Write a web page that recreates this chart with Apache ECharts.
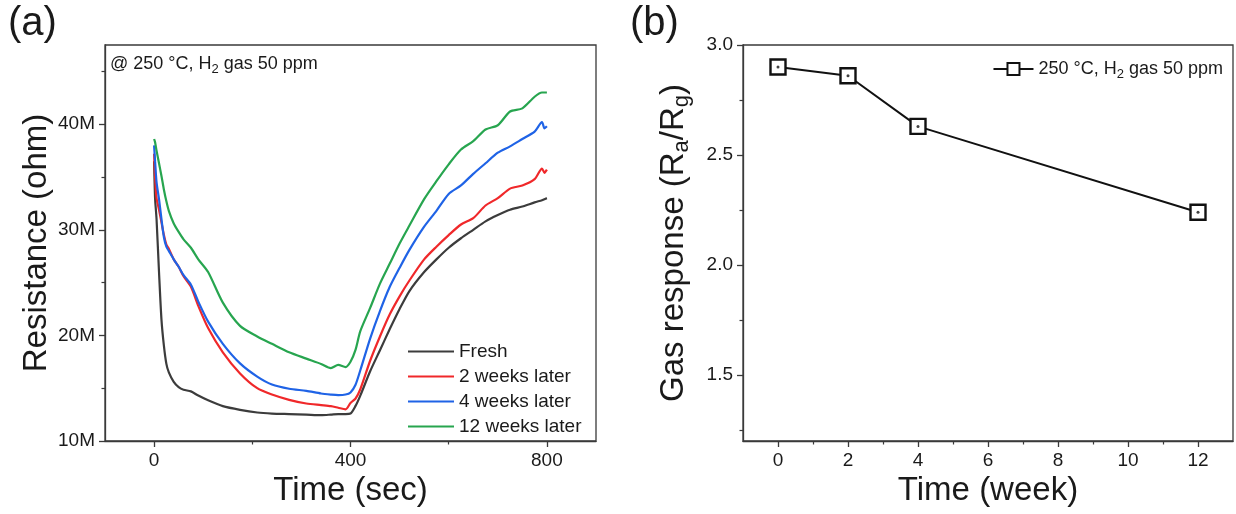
<!DOCTYPE html>
<html>
<head>
<meta charset="utf-8">
<script src="https://cdn.jsdelivr.net/npm/echarts@6/dist/echarts.min.js"></script>
<style>
  html, body { margin: 0; padding: 0; background: #fff; }
  #chart { width: 1236px; height: 514px; }
</style>
</head>
<body>
<div id="chart"></div>
<script>
// ---- Panel (a) data: time (sec) and resistance (M ohm) ----
const times = [0, 2, 5, 10, 15, 20, 25, 30, 40, 50, 60, 75, 90, 110, 140, 175, 210, 240, 275, 310, 340, 360, 375, 390, 400, 410, 420, 440, 460, 480, 500, 520, 550, 575, 600, 625, 650, 675, 700, 725, 750, 775, 790, 795, 800];
const fresh = [36.5, 33.0, 31.0, 26.0, 21.5, 19.0, 17.3, 16.5, 15.6, 15.1, 14.85, 14.7, 14.3, 13.85, 13.3, 12.95, 12.7, 12.6, 12.55, 12.5, 12.45, 12.5, 12.55, 12.55, 12.6, 13.3, 14.3, 16.6, 18.6, 20.6, 22.5, 24.2, 26.0, 27.2, 28.3, 29.2, 30.0, 30.8, 31.4, 31.9, 32.2, 32.6, 32.8, 32.9, 33.0];
const weeks2 = [37.2, 35.0, 33.0, 31.9, 30.7, 29.5, 28.6, 28.2, 27.2, 26.5, 25.6, 24.6, 22.8, 20.7, 18.4, 16.4, 15.0, 14.4, 13.9, 13.55, 13.4, 13.3, 13.15, 13.0, 13.6, 14.0, 14.9, 17.6, 19.9, 22.0, 23.7, 25.2, 27.2, 28.4, 29.5, 30.5, 31.1, 32.3, 33.0, 33.9, 34.2, 34.8, 35.8, 35.4, 35.7];
const weeks4 = [38.0, 36.5, 34.5, 32.9, 31.0, 29.3, 28.4, 28.0, 27.2, 26.5, 25.7, 24.8, 23.2, 21.3, 19.2, 17.35, 16.1, 15.35, 14.95, 14.75, 14.5, 14.4, 14.35, 14.4, 14.6, 15.3, 16.7, 19.7, 22.3, 24.6, 26.4, 28.1, 30.3, 31.8, 33.4, 34.2, 35.3, 36.3, 37.3, 37.9, 38.6, 39.3, 40.2, 39.6, 39.8];
const weeks12 = [38.6, 38.3, 37.5, 36.3, 35.1, 33.8, 32.7, 31.8, 30.6, 29.8, 29.1, 28.3, 27.2, 26.0, 23.1, 20.9, 19.9, 19.2, 18.4, 17.8, 17.3, 16.9, 17.2, 17.0, 17.5, 18.6, 20.4, 22.6, 24.9, 26.8, 28.7, 30.4, 32.9, 34.6, 36.2, 37.6, 38.4, 39.5, 39.9, 41.2, 41.5, 42.6, 43.0, 43.0, 43.0];
const seriesNames = ['Fresh', '2 weeks later', '4 weeks later', '12 weeks later'];

// ---- Panel (b) data ----
const weeks = [0, 2, 4, 12];
const response = [2.90, 2.86, 2.63, 2.24];
const responseName = '250 °C, H2 gas 50 ppm';

// ---- Tick labels ----
const timeTicks = [0, 400, 800];
const timeMinor = [200, 600];
const resTicks = [10, 20, 30, 40];
const resMinor = [15, 25, 35, 45];
const weekTicks = [0, 2, 4, 6, 8, 10, 12];
const weekMinor = [1, 3, 5, 7, 9, 11];
const respTicks = [1.5, 2.0, 2.5, 3.0];
const respMinor = [1.25, 1.75, 2.25, 2.75];

const FONT = 'Liberation Sans, Arial, sans-serif';
const AX = '#3a3a3a';
const TXT = '#1a1a1a';

function pairs(xs, ys) { return xs.map((x, i) => [x, ys[i]]); }

function majorAxis(dim, grid, min, max, ticks, fmt, extra) {
  return Object.assign({
    type: 'value', gridIndex: grid, min: min, max: max,
    position: dim === 'x' ? 'bottom' : 'left',
    axisLine: { show: true, onZero: false, lineStyle: { color: AX, width: 1.3 } },
    axisTick: { show: true, inside: false, length: 6, customValues: ticks, lineStyle: { color: AX, width: 1.3 } },
    axisLabel: { show: true, customValues: ticks, formatter: fmt, fontFamily: FONT, fontSize: 19, color: TXT, margin: 10 },
    splitLine: { show: false }
  }, extra || {});
}
function minorAxis(dim, grid, min, max, ticks) {
  return {
    type: 'value', gridIndex: grid, min: min, max: max,
    position: dim === 'x' ? 'bottom' : 'left',
    axisLine: { show: false, onZero: false },
    axisTick: { show: true, inside: false, length: 3.5, customValues: ticks, lineStyle: { color: AX, width: 1.2 } },
    axisLabel: { show: false },
    splitLine: { show: false }
  };
}

const colors = ['#3c3c3c', '#f0282a', '#1f63e6', '#27a54f'];
const leftData = [fresh, weeks2, weeks4, weeks12];

const option = {
  animation: false,
  backgroundColor: '#ffffff',
  textStyle: { fontFamily: FONT },
  grid: [
    { left: 105, right: 640, top: 45, bottom: 73, show: true, borderColor: AX, borderWidth: 1.3, containLabel: false },
    { left: 743, right: 3, top: 45, bottom: 73, show: true, borderColor: AX, borderWidth: 1.3, containLabel: false }
  ],
  xAxis: [
    majorAxis('x', 0, -100, 900, timeTicks, v => String(v), {
      name: 'Time (sec)', nameLocation: 'middle', nameGap: 32,
      nameTextStyle: { fontFamily: FONT, fontSize: 33, color: TXT }
    }),
    minorAxis('x', 0, -100, 900, timeMinor),
    majorAxis('x', 1, -1, 13, weekTicks, v => String(v), {
      name: 'Time (week)', nameLocation: 'middle', nameGap: 32,
      nameTextStyle: { fontFamily: FONT, fontSize: 33, color: TXT }
    }),
    minorAxis('x', 1, -1, 13, weekMinor)
  ],
  yAxis: [
    majorAxis('y', 0, 10, 47.5, resTicks, v => v + 'M', {
      name: 'Resistance (ohm)', nameLocation: 'middle', nameGap: 52, nameRotate: 90,
      nameTextStyle: { fontFamily: FONT, fontSize: 33, color: TXT }
    }),
    minorAxis('y', 0, 10, 47.5, resMinor),
    majorAxis('y', 1, 1.2, 3.0, respTicks, v => v.toFixed(1), {
      name: '{m|Gas response (R}{s|a}{m|/R}{s|g}{m|)}', nameLocation: 'middle', nameGap: 50, nameRotate: 90,
      nameTextStyle: { fontFamily: FONT, fontSize: 33, color: TXT,
        rich: {
          m: { fontFamily: FONT, fontSize: 33, color: TXT },
          s: { fontFamily: FONT, fontSize: 22, color: TXT, padding: [16, 0, 0, 0] }
        } }
    }),
    minorAxis('y', 1, 1.2, 3.0, respMinor)
  ],
  legend: [
    {
      data: seriesNames, orient: 'vertical', left: 403, top: 337,
      itemWidth: 46, itemHeight: 14, itemGap: 6,
      textStyle: { fontFamily: FONT, fontSize: 19, color: TXT, lineHeight: 18 },
      icon: 'path://M0,6 L46,6 L46,8 L0,8 Z'
    },
    {
      data: [responseName], orient: 'horizontal', right: 8, top: 55,
      itemWidth: 40, itemHeight: 15, itemGap: 4,
      formatter: () => '{t|250 °C, H}{s|2}{t| gas 50 ppm}',
      textStyle: { fontFamily: FONT, fontSize: 18, color: TXT,
        rich: {
          t: { fontFamily: FONT, fontSize: 18, color: TXT },
          s: { fontFamily: FONT, fontSize: 13, color: TXT, padding: [10, 0, 0, 0] }
        } }
    }
  ],
  graphic: [
    { type: 'text', left: 8, top: 4, style: { text: '(a)', fontFamily: FONT, fontSize: 40, fill: TXT } },
    { type: 'text', left: 630, top: 4, style: { text: '(b)', fontFamily: FONT, fontSize: 40, fill: TXT } },
    { type: 'text', left: 110, top: 55, style: {
        text: '{t|@ 250 °C, H}{s|2}{t| gas 50 ppm}',
        rich: {
          t: { fontFamily: FONT, fontSize: 18, fill: TXT },
          s: { fontFamily: FONT, fontSize: 13, fill: TXT, padding: [10, 0, 0, 0] }
        } } }
  ],
  series: leftData.map((vals, i) => ({
    name: seriesNames[i], type: 'line', xAxisIndex: 0, yAxisIndex: 0,
    data: pairs(times, vals), symbol: 'none', smooth: 0.25,
    lineStyle: { color: colors[i], width: 2.2 }, itemStyle: { color: colors[i] }, z: 2 + i
  })).concat([
    {
      name: responseName, type: 'line', xAxisIndex: 2, yAxisIndex: 2,
      data: pairs(weeks, response), symbol: 'rect', symbolSize: 15,
      lineStyle: { color: '#111', width: 2 },
      itemStyle: { color: '#fff', borderColor: '#111', borderWidth: 2.4 }, z: 5
    },
    {
      name: 'dot', type: 'scatter', xAxisIndex: 2, yAxisIndex: 2,
      data: pairs(weeks, response), symbol: 'circle', symbolSize: 3,
      itemStyle: { color: '#111' }, z: 6, silent: true
    }
  ])
};

const chart = echarts.init(document.getElementById('chart'), null, { renderer: 'canvas' });
chart.setOption(option);
</script>
</body>
</html>
